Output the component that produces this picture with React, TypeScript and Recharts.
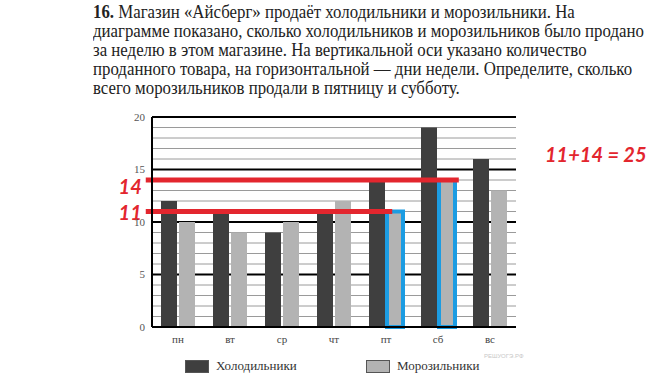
import React from 'react';
import {
  BarChart,
  Bar,
  Cell,
  XAxis,
  YAxis,
  CartesianGrid,
  Legend,
  ReferenceLine,
} from 'recharts';

const days = ['пн', 'вт', 'ср', 'чт', 'пт', 'сб', 'вс'];
const fridges = [12, 11, 9, 11, 14, 19, 16];
const freezers = [10, 9, 10, 12, 11, 14, 13];
const highlighted = ['пт', 'сб'];
const seriesNames = ['Холодильники', 'Морозильники'];

const majorTicks = [0, 5, 10, 15, 20];
const minorTicks = [1, 2, 3, 4, 6, 7, 8, 9, 11, 12, 13, 14, 16, 17, 18, 19];

// marker lines: value, where they start/stop (day index, centre = index), label offset
const markers = [
  { value: 14, from: -0.62, to: 5.4, dy: 14 },
  { value: 11, from: -0.62, to: 4.12, dy: 8 },
];

const questionLines = [
  'Магазин «Айсберг» продаёт холодильники и морозильники. На',
  'диаграмме показано, сколько холодильников и морозильников было продано',
  'за неделю в этом магазине. На вертикальной оси указано количество',
  'проданного товара, на горизонтальной — дни недели. Определите, сколько',
  'всего морозильников продали в пятницу и субботу.',
];

const data = days.map((day, i) => ({
  day,
  slot: i,
  fridges: fridges[i],
  freezers: freezers[i],
}));

const DARK = '#3f3f3f';
const LIGHT = '#b3b3b3';
const RED = '#e3262e';
const BLUE = '#1c9ce2';
const SERIF = '"Liberation Serif", "DejaVu Serif", serif';
const HAND = 'Lato, "Open Sans", sans-serif';

const renderLegend = (props: any) => {
  const items = [...(props.payload || [])].sort(
    (a: any, b: any) => seriesNames.indexOf(a.value) - seriesNames.indexOf(b.value)
  );
  return (
    <div style={{ display: 'flex' }}>
      {items.map((item: any) => (
        <div key={item.value} style={{ width: 181, display: 'flex', alignItems: 'center' }}>
          <span
            style={{
              width: 22,
              height: 11,
              background: item.color,
              border: '1px solid #555',
              marginRight: 7,
            }}
          />
          <span style={{ fontFamily: SERIF, fontSize: 13, color: '#333' }}>{item.value}</span>
        </div>
      ))}
    </div>
  );
};

export default function App() {
  return (
    <div style={styles.page}>
      <div style={styles.question}>
        {questionLines.map((line, i) => (
          <div key={i}>
            {i === 0 && <b>16. </b>}
            {line}
          </div>
        ))}
      </div>
      <div style={styles.answer}>11+14 = 25</div>
      <BarChart
        width={659}
        height={389}
        data={data}
        margin={{ top: 117, right: 143, bottom: 32, left: 112 }}
        barSize={16}
        barGap={2}
      >
        <CartesianGrid vertical={false} horizontalValues={minorTicks} stroke="#9a9a9a" strokeWidth={1} />
        <CartesianGrid vertical={false} horizontalValues={majorTicks} stroke="#000" strokeWidth={2} />
        <XAxis
          xAxisId="cat"
          dataKey="day"
          height={30}
          tickLine={false}
          axisLine={{ stroke: '#000', strokeWidth: 2 }}
          tickSize={6}
          tickMargin={2}
          tick={{ fontFamily: SERIF, fontSize: 11, fill: '#444' }}
        />
        <XAxis
          xAxisId="pos"
          dataKey="slot"
          type="number"
          domain={[-0.5, 6.5]}
          allowDataOverflow
          hide
        />
        <YAxis
          width={40}
          domain={[0, 20]}
          ticks={majorTicks}
          interval={0}
          tickLine={false}
          axisLine={{ stroke: '#000', strokeWidth: 2 }}
          tickSize={5}
          tickMargin={2}
          tick={{ fontFamily: SERIF, fontSize: 11, fill: '#555' }}
        />
        <Bar xAxisId="cat" dataKey="fridges" name="Холодильники" fill={DARK} isAnimationActive={false} />
        <Bar xAxisId="cat" dataKey="freezers" name="Морозильники" fill={LIGHT} isAnimationActive={false}>
          {data.map((d) => (
            <Cell
              key={d.day}
              fill={LIGHT}
              stroke={highlighted.includes(d.day) ? BLUE : 'none'}
              strokeWidth={highlighted.includes(d.day) ? 4 : 0}
            />
          ))}
        </Bar>
        {markers.map((m) => (
          <ReferenceLine
            key={m.value}
            xAxisId="pos"
            segment={[
              { x: m.from, y: m.value },
              { x: m.to, y: m.value },
            ]}
            ifOverflow="visible"
            stroke={RED}
            strokeWidth={5}
            label={(p: any) => (
              <text
                x={(p.viewBox?.x ?? 146) - 4}
                y={(p.viewBox?.y ?? 0) + m.dy}
                textAnchor="end"
                fill={RED}
                fontFamily={HAND}
                fontSize={20}
                fontWeight={700}
                fontStyle="italic"
              >
                {m.value}
              </text>
            )}
          />
        ))}
        <Legend
          layout="horizontal"
          verticalAlign="middle"
          wrapperStyle={{ top: 358, left: 185, width: 400 }}
          content={renderLegend}
        />
        <text x={484} y={358} fontSize={6} fill="#c8c8c8" fontFamily="sans-serif">
          РЕШУОГЭ.РФ
        </text>
      </BarChart>
    </div>
  );
}

const styles: Record<string, React.CSSProperties> = {
  page: {
    position: 'absolute',
    left: 0,
    top: 0,
    width: 659,
    height: 389,
    background: '#fff',
    overflow: 'hidden',
  },
  question: {
    position: 'absolute',
    left: 93,
    top: 3,
    fontFamily: SERIF,
    fontSize: 18,
    lineHeight: '19px',
    color: '#222',
    whiteSpace: 'nowrap',
    transform: 'scaleX(0.935)',
    transformOrigin: 'left top',
  },
  answer: {
    position: 'absolute',
    left: 545,
    top: 142,
    fontFamily: HAND,
    fontSize: 20,
    fontWeight: 700,
    fontStyle: 'italic',
    color: RED,
    whiteSpace: 'nowrap',
  },
};
